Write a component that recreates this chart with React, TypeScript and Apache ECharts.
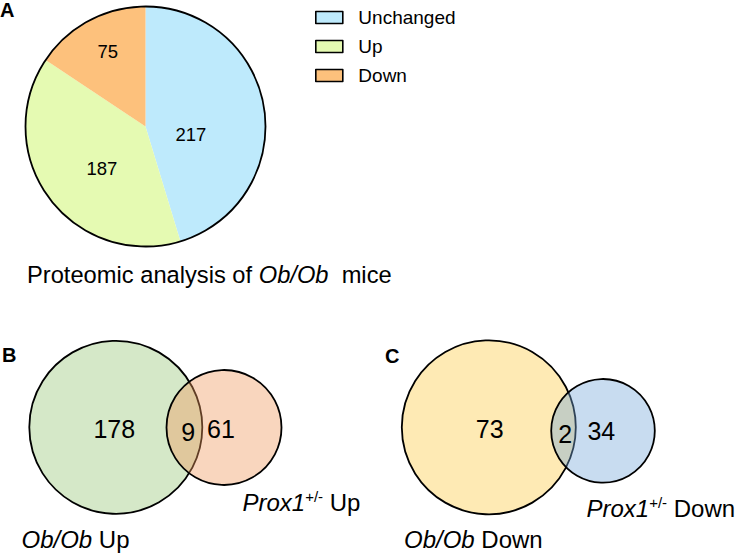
import React, { useEffect, useRef } from "react";
import * as echarts from "echarts";

const pieCategories = ["Unchanged", "Up", "Down"];
const pieValues = [217, 187, 75];
const pieColors = ["#BEEAFC", "#E5FAB2", "#FDC17C"];
const pieTitle = ["Proteomic analysis of ", "Ob/Ob", "  mice"];

// Venn counts: [only left, overlap, only right]
const vennBCounts = [178, 9, 61];
const vennCCounts = [73, 2, 34];
const vennBSetNames = [["Ob/Ob", " Up"], ["Prox1", "+/-", " Up"]];
const vennCSetNames = [["Ob/Ob", " Down"], ["Prox1", "+/-", " Down"]];
const panelLetters = ["A", "B", "C"];

const FONT = "Arial, 'Liberation Sans', Helvetica, sans-serif";

function txt(text: string, x: number, y: number, size: number, extra: any = {}) {
  return {
    type: "text",
    x,
    y,
    z: 10,
    style: {
      text,
      fontSize: size,
      fontFamily: FONT,
      fill: "#000",
      align: "center",
      verticalAlign: "middle",
      textAlign: "center",
      textVerticalAlign: "middle",
      ...extra,
    },
  };
}

function richLabel(parts: string[], x: number, y: number, size: number) {
  let s = "";
  if (parts.length === 2) s = `{i|${parts[0]}}{n|${parts[1]}}`;
  else s = `{i|${parts[0]}}{sup|${parts[1]}}{n|${parts[2]}}`;
  return {
    type: "text",
    x,
    y,
    z: 10,
    style: {
      text: s,
      fontFamily: FONT,
      fill: "#000",
      align: "left",
      verticalAlign: "middle",
      textAlign: "left",
      textVerticalAlign: "middle",
      rich: {
        i: { fontSize: size, fontStyle: "italic", fontFamily: FONT, fill: "#000" },
        n: { fontSize: size, fontFamily: FONT, fill: "#000" },
        sup: { fontSize: 15, fontFamily: FONT, fill: "#000", padding: [0, 0, 12, 0] },
      },
    },
  };
}

function circle(cx: number, cy: number, r: number, fill: string) {
  return {
    type: "circle",
    shape: { cx, cy, r },
    style: { fill, stroke: "#000", lineWidth: 1.8 },
  };
}

export default function App() {
  const ref = useRef<HTMLDivElement>(null);
  useEffect(() => {
    if (!ref.current) return;
    const chart = echarts.init(ref.current, null, { renderer: "svg" });
    const labelOffsets = [
      [-17, 17],
      [7, 4],
      [-8, -19],
    ];
    const option: any = {
      animation: false,
      backgroundColor: "#fff",
      legend: {
        orient: "vertical",
        left: 310,
        top: 3,
        itemWidth: 27,
        itemHeight: 12,
        itemGap: 10,
        icon: "rect",
        data: pieCategories,
        formatter: "  {name}",
        itemStyle: { borderColor: "#000", borderWidth: 1.6 },
        textStyle: { fontSize: 19, fontFamily: FONT, color: "#000" },
      },
      series: [
        {
          type: "pie",
          center: [145.5, 126.5],
          radius: 120,
          startAngle: 90,
          clockwise: true,
          silent: true,
          data: pieCategories.map((c, i) => ({
            name: c,
            value: pieValues[i],
            itemStyle: { color: pieColors[i] },
          })),
          itemStyle: { borderWidth: 0 },
          label: {
            show: true,
            position: "inside",
            formatter: "{c}",
            fontSize: 18.5,
            fontFamily: FONT,
            color: "#000",
          },
          labelLine: { show: false },
          labelLayout: (p: any) => ({
            dx: labelOffsets[p.dataIndex][0],
            dy: labelOffsets[p.dataIndex][1],
          }),
        },
      ],
      graphic: [
        {
          type: "circle",
          shape: { cx: 145.5, cy: 126.5, r: 120 },
          style: { fill: "none", stroke: "#000", lineWidth: 1.8 },
          z: 5,
        },
        txt(panelLetters[0], 0, 10, 20, { fontWeight: "bold", align: "left", textAlign: "left" }),
        txt(panelLetters[1], 2, 355, 20, { fontWeight: "bold", align: "left", textAlign: "left" }),
        txt(panelLetters[2], 385, 356, 20, { fontWeight: "bold", align: "left", textAlign: "left" }),
        {
          type: "text",
          x: 27,
          y: 275,
          style: {
            text: `{n|${pieTitle[0]}}{i|${pieTitle[1]}}{n|${pieTitle[2]}}`,
            fontFamily: FONT,
            align: "left",
            verticalAlign: "middle",
            textAlign: "left",
            textVerticalAlign: "middle",
            rich: {
              n: { fontSize: 23.7, fontFamily: FONT, fill: "#000" },
              i: { fontSize: 23.7, fontFamily: FONT, fontStyle: "italic", fill: "#000" },
            },
          },
        },
        // Venn B
        circle(115.8, 427.3, 86.5, "rgba(150,198,118,0.4)"),
        circle(224, 427.5, 57.5, "rgba(240,153,93,0.4)"),
        txt(String(vennBCounts[0]), 114.3, 429, 25),
        txt(String(vennBCounts[1]), 188.3, 432, 25),
        txt(String(vennBCounts[2]), 221, 429, 25),
        richLabel(vennBSetNames[0], 21.5, 539, 24),
        richLabel(vennBSetNames[1], 242.5, 502, 24),
        // Venn C
        circle(488.8, 427.3, 87, "rgba(252,202,68,0.4)"),
        circle(603, 430.8, 51.8, "rgba(118,168,218,0.4)"),
        txt(String(vennCCounts[0]), 489.7, 429, 25),
        txt(String(vennCCounts[1]), 565.3, 434, 25),
        txt(String(vennCCounts[2]), 601.3, 431.3, 25),
        richLabel(vennCSetNames[0], 404, 539, 24),
        richLabel(vennCSetNames[1], 586.5, 508, 24),
      ],
    };
    chart.setOption(option);
    return () => chart.dispose();
  }, []);
  return (
    <div
      ref={ref}
      style={{ position: "fixed", left: 0, top: 0, width: 738, height: 553 }}
    />
  );
}
